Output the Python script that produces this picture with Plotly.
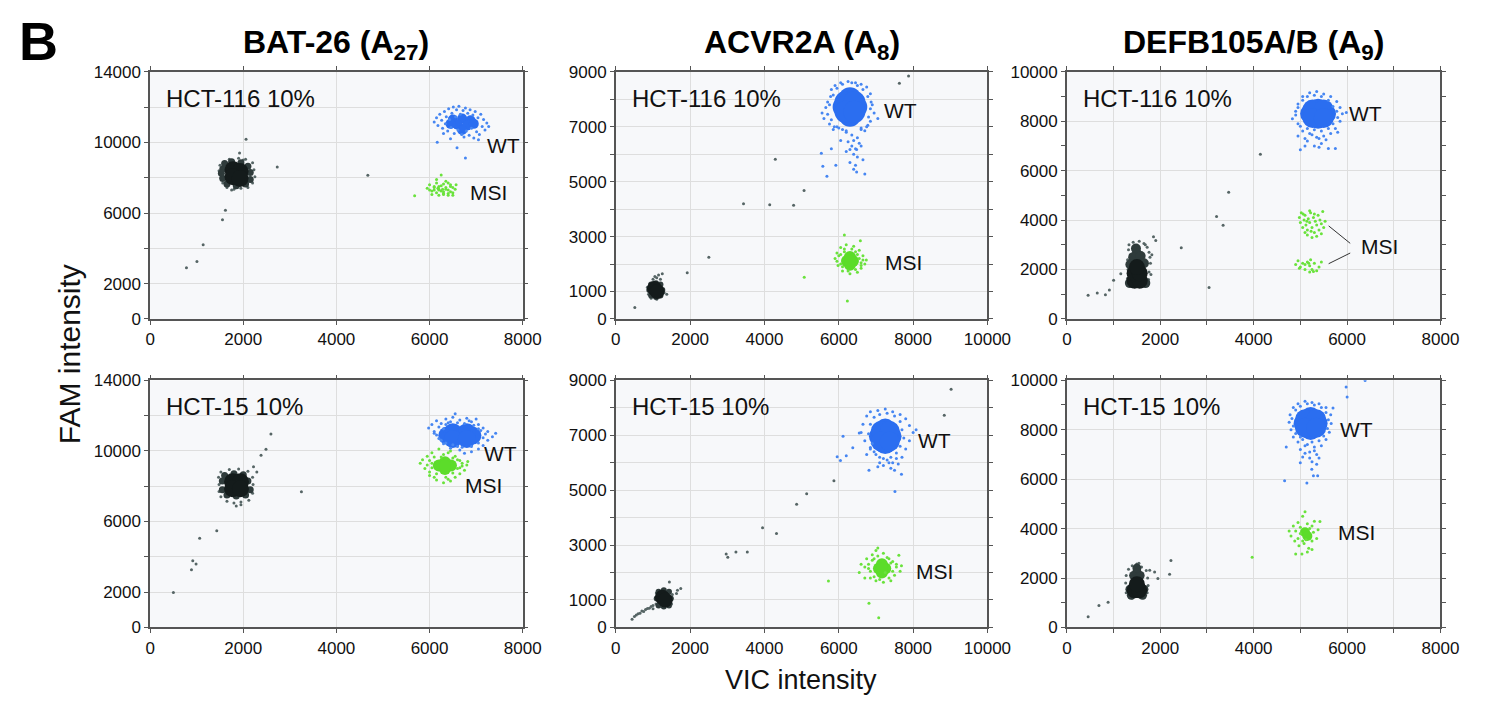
import plotly.graph_objects as go
from plotly.subplots import make_subplots

# ---------------- DATA (VIC = x, FAM = y) ----------------
TITLES = ["BAT-26 (A<sub>27</sub>)", "ACVR2A (A<sub>8</sub>)", "DEFB105A/B (A<sub>9</sub>)"]
SAMPLES = ["HCT-116 10%", "HCT-15 10%"]

X_RANGES = [8000, 10000, 8000]
Y_RANGES = [14000, 9000, 10000]
Y_TICKS = [[0, 2000, 6000, 10000, 14000], [0, 1000, 3000, 5000, 7000, 9000], [0, 2000, 4000, 6000, 8000, 10000]]
X_TICKS = [[0, 2000, 4000, 6000, 8000], [0, 2000, 4000, 6000, 8000, 10000], [0, 2000, 4000, 6000, 8000]]

# Panel 1: BAT-26, HCT-116
P1_BLACK_CORE = [(1780, 8450), (1930, 8350), (1780, 8050), (1930, 7950)]
P1_BLACK_MID = [(1560, 8500), (1600, 8800), (1750, 8900), (1950, 8850), (2100, 8650), (2150, 8300),
                (2150, 7900), (2050, 7650), (1850, 7550), (1650, 7650), (1560, 7950), (1530, 8250)]
P1_BLACK_EDGE = [(1500, 8700), (1480, 8400), (1520, 8000), (1560, 7700), (1650, 7450), (1800, 7350),
                 (1950, 7400), (2100, 7450), (2200, 7700), (2250, 8050), (2230, 8450), (2200, 8850),
                 (2050, 9050), (1900, 9100), (1700, 9050), (1920, 9400), (2060, 10180), (2730, 8600),
                 (4675, 8140), (1617, 6155), (1554, 5623), (1139, 4208), (1005, 3253), (780, 2903),
                 (1750, 7300), (2000, 9000)]
P1_BLUE_CORE = [(6500, 11300), (6700, 11350), (6880, 11250), (6600, 11000), (6800, 10950), (6700, 10700),
                (6450, 11050), (6950, 11050)]
P1_BLUE_EDGE = [(6100, 11150), (6150, 11400), (6180, 10950), (6220, 11600), (6260, 11250), (6280, 10800),
                (6320, 11750), (6340, 11050), (6360, 11450), (6390, 10650), (6410, 11900), (6430, 11300),
                (6460, 10850), (6480, 11650), (6510, 12000), (6530, 10500), (6560, 11450), (6580, 11850),
                (6610, 10700), (6630, 12050), (6660, 11600), (6690, 10450), (6720, 11800), (6740, 10300),
                (6770, 11950), (6790, 10650), (6820, 11650), (6850, 10400), (6870, 11850), (6900, 10800),
                (6930, 11550), (6950, 10250), (6980, 11750), (7010, 10600), (7040, 11400), (7070, 10450),
                (7100, 11600), (7130, 10900), (7160, 11300), (7190, 10700), (7230, 11100), (7270, 10900),
                (6770, 9110), (6165, 10010), (6590, 9700), (6450, 10200), (7050, 10150), (6300, 10500)]
P1_GREEN = [(5950, 7400), (6000, 7600), (6050, 7250), (6100, 7500), (6150, 7700), (6200, 7350), (6250, 7550),
            (6300, 7200), (6350, 7450), (6400, 7300), (6450, 7600), (6500, 7150), (6550, 7350), (6050, 7050),
            (6100, 7300), (6150, 7150), (6200, 7000), (6250, 7250), (6300, 7050), (6350, 7350), (6400, 7100),
            (6450, 7200), (6500, 7000), (6000, 7300), (6100, 7450), (6200, 7500), (6300, 7650), (6400, 7700),
            (6500, 7450), (6150, 7900), (6250, 8150), (6350, 7800), (6450, 7500), (6200, 7300), (6300, 7100),
            (6400, 7000), (5680, 6980), (6570, 7600), (6180, 7400), (6280, 7350)]

# Panel 2: ACVR2A, HCT-116
P2_BLACK_CORE = [(1040, 1110), (1110, 1000)]
P2_BLACK_MID = [(900, 1050), (1250, 1050), (1080, 1300), (1080, 800), (950, 1250), (1200, 1250),
                (950, 850), (1200, 850)]
P2_BLACK_EDGE = [(1000, 1450), (1050, 1550), (1100, 1500), (1150, 1600), (1250, 1650), (1200, 1450),
                 (1020, 1350), (1300, 950), (1370, 900), (850, 1150), (880, 900), (1100, 720), (950, 750),
                 (511, 416), (1921, 1686), (2502, 2244), (3436, 4191), (4291, 5818), (4141, 4156),
                 (4784, 4144), (5066, 4678), (7630, 8585), (7877, 8846)]
P2_BLUE_CORE = [(6300, 8040), (6300, 7400), (6130, 7720), (6470, 7720), (6300, 7720),
                (6180, 7900), (6420, 7900), (6180, 7540), (6420, 7540)]
P2_BLUE_EDGE = [(5550, 7500), (5600, 7300), (5650, 7700), (5700, 7900), (5750, 7100), (5780, 8100),
                (5800, 8350), (5900, 8500), (6050, 8600), (6250, 8650), (6450, 8600), (6600, 8550),
                (6750, 8450), (6850, 8200), (6900, 7800), (6950, 7500), (7050, 7300), (6850, 7200),
                (6750, 7000), (6700, 6850), (6600, 6950), (5850, 6900), (5950, 7000), (6100, 6900),
                (6200, 6800), (6350, 6700), (6500, 6600), (6400, 6500), (6250, 6450), (6550, 6400),
                (6350, 6300), (6450, 6200), (6300, 6170), (6480, 6170), (6600, 6300), (6200, 6100),
                (6400, 6000), (6500, 5900), (6650, 5800), (6300, 5700), (6450, 5600), (5530, 6030),
                (5570, 5560), (5920, 5600), (5680, 5200), (6700, 5280), (6480, 5350), (6400, 5450),
                (6050, 6500), (5800, 6200), (5700, 7450), (5750, 7800), (5800, 7250), (5850, 8150),
                (5880, 7000), (5950, 8400), (6000, 6950), (6100, 8550), (6200, 6850), (6350, 8600),
                (6500, 8500), (6600, 6900), (6650, 8350), (6780, 8100), (6800, 7350), (6850, 7650),
                (6870, 7900), (6780, 7050)]
P2_GREEN_CORE = [(6220, 2113), (6380, 2113), (6300, 2260), (6300, 1970), (6300, 2113)]
P2_GREEN_EDGE = [(5900, 2200), (5950, 2400), (5980, 1950), (6050, 2600), (6100, 1750), (6200, 2700),
                 (6300, 1650), (6400, 2650), (6500, 1700), (6550, 2500), (6650, 2300), (6700, 2000),
                 (6740, 2150), (6600, 1850), (6150, 3060), (6580, 2850), (5070, 1520), (6230, 650),
                 (6000, 2300), (6600, 2050), (6450, 2450), (6150, 2450), (5950, 2100), (6050, 2350),
                 (6100, 1900), (6150, 2550), (6250, 1750), (6450, 1800), (6500, 2350), (6550, 2200),
                 (6600, 1950), (6350, 2550), (6050, 2000), (6650, 2150)]

# Panel 3: DEFB105A/B, HCT-116
P3_BLACK_CORE = [(1450, 1550), (1560, 1550), (1450, 1850), (1560, 1850), (1500, 2100)]
P3_BLACK_MID = [(1500, 2400), (1500, 2650), (1480, 2850), (1420, 2500), (1580, 2550), (1360, 2200),
                (1650, 2250), (1350, 1450), (1680, 1450)]
P3_BLACK_EDGE = [(1320, 2800), (1330, 3000), (1420, 3100), (1550, 3140), (1650, 3050), (1720, 2900),
                 (1760, 2700), (1780, 2500), (1790, 2250), (1760, 1900), (1750, 1600), (1720, 1350),
                 (1600, 1300), (1400, 1300), (1300, 1650), (1310, 2000), (1300, 2400), (1855, 3330),
                 (1904, 3176), (1155, 1830), (1001, 1569), (910, 1176), (826, 980), (651, 1046),
                 (455, 954), (2450, 2876), (3045, 1268), (3206, 4144), (3346, 3791), (3465, 5124),
                 (4144, 6667), (1800, 1800), (1820, 2600), (1680, 3000)]
P3_BLUE_CORE = [(5210, 8300), (5550, 8300), (5380, 8500), (5380, 8100), (5380, 8300),
                (5260, 8470), (5500, 8470), (5260, 8130), (5500, 8130)]
P3_BLUE_EDGE = [(4830, 8100), (4900, 8400), (4950, 8700), (4950, 7900), (5050, 9000), (5200, 9150),
                (5350, 9200), (5500, 9100), (5650, 9000), (5780, 8800), (5850, 8550), (5900, 8300),
                (5985, 8350), (5850, 8000), (5750, 7700), (5650, 7500), (5500, 7400), (5350, 7350),
                (5200, 7500), (5050, 7600), (4950, 7400), (5150, 7200), (5300, 7000), (5450, 7100),
                (5550, 7250), (5750, 6900), (5600, 6900), (5000, 6850), (5100, 7000), (5400, 6950),
                (5800, 7550), (4900, 8250), (4950, 8550), (5000, 7800), (5050, 8850), (5150, 9000),
                (5300, 9050), (5450, 9000), (5600, 8850), (5700, 8600), (5780, 8400), (5800, 8150),
                (5700, 7900), (5600, 7700), (5450, 7600), (5300, 7650), (5150, 7700), (5250, 7450),
                (5400, 7300), (5100, 7300)]
P3_GREEN = [(4980, 4100), (5000, 3900), (5020, 4300), (5050, 3700), (5080, 4000), (5100, 4200), (5120, 3800),
            (5150, 3600), (5170, 4050), (5200, 3900), (5220, 4300), (5250, 3700), (5280, 4100), (5300, 3500),
            (5320, 3950), (5350, 3800), (5380, 4200), (5400, 3600), (5420, 4000), (5450, 3850), (5480, 4350),
            (5500, 3700), (5530, 3950), (5150, 3400), (5250, 3300), (5350, 3350), (5200, 4380), (5100, 3500),
            (5450, 3450), (5300, 4250), (5060, 4250), (5230, 3550), (5140, 3950),
            (4900, 2200), (4950, 2350), (5000, 2100), (5050, 2250), (5100, 2000), (5150, 2300), (5200, 2150),
            (5220, 2400), (5250, 2000), (5300, 2250), (5350, 1950), (5400, 2100), (5450, 2300), (5100, 2200),
            (5200, 1900), (5280, 1920), (5180, 2250), (4980, 2050)]

# Panel 4: BAT-26, HCT-15
P4_BLACK_CORE = [(1770, 8250), (1940, 8250), (1770, 7850), (1940, 7850)]
P4_BLACK_MID = [(1550, 8300), (1600, 8600), (1800, 8700), (2000, 8650), (2100, 8300), (2150, 7800),
                (2050, 7500), (1850, 7450), (1650, 7500), (1550, 7800)]
P4_BLACK_EDGE = [(1480, 8100), (1470, 8500), (1520, 8800), (1700, 8950), (1900, 8980), (2100, 8850),
                 (2200, 8500), (2210, 8100), (2200, 7600), (2120, 7200), (1950, 7100), (1800, 7050),
                 (1650, 7150), (1520, 7400), (1480, 7700), (1850, 6880), (1950, 6950), (2594, 10957),
                 (2488, 10090), (2382, 9758), (2291, 8799), (3249, 7692), (1431, 5478), (1064, 5054),
                 (916, 3781), (987, 3597), (888, 3265), (500, 1974), (2220, 9100)]
P4_BLUE_CORE = [(6380, 10870), (6650, 10870), (6920, 10870), (6500, 11060), (6800, 11060),
                (6500, 10680), (6800, 10680)]
P4_BLUE_EDGE = [(5980, 11300), (6050, 11500), (6100, 11100), (6150, 11700), (6250, 11550), (6350, 11800),
                (6500, 11900), (6550, 12100), (6650, 11750), (6800, 11850), (6900, 11650), (7050, 11500),
                (7150, 11300), (7250, 11100), (7350, 10800), (7420, 11000), (7250, 10600), (7150, 10300),
                (7050, 10100), (6900, 9950), (6750, 9870), (6650, 10050), (6450, 10150), (6300, 10400),
                (6200, 10700), (6150, 10900), (7000, 11800), (6400, 11600), (6100, 11000), (6200, 11350),
                (6250, 10600), (6350, 11500), (6450, 11650), (6600, 11600), (6750, 11550), (6950, 11450),
                (7100, 11150), (7150, 10750), (7050, 10450), (6900, 10250), (6700, 10200), (6500, 10350),
                (6350, 10450), (7200, 10950), (6300, 11250), (7050, 11250), (6600, 10250), (6850, 11700)]
P4_GREEN_CORE = [(6200, 9170), (6460, 9170), (6330, 9350), (6330, 8980), (6330, 9170)]
P4_GREEN_EDGE = [(5800, 9300), (5850, 9500), (5900, 9000), (5950, 9700), (6000, 8800), (6050, 9900),
                 (6100, 8500), (6200, 10100), (6250, 9650), (6400, 9900), (6450, 10000), (6550, 9700),
                 (6600, 9500), (6700, 9300), (6800, 9200), (6750, 8900), (6650, 8700), (6550, 8500),
                 (6450, 8300), (6300, 8200), (6150, 8350), (6000, 8600), (6820, 9400), (6050, 9300),
                 (6600, 9000), (5950, 9200), (6000, 9450), (6100, 9650), (6150, 8700), (6300, 9800),
                 (6500, 9600), (6650, 9450), (6650, 9050), (6500, 8750), (6350, 8500), (6050, 9050),
                 (6700, 9150), (6400, 8400)]

# Panel 5: ACVR2A, HCT-15
P5_BLACK_CORE = [(1250, 1100), (1330, 1000)]
P5_BLACK_MID = [(1100, 1050), (1480, 1050), (1290, 1350), (1290, 760), (1150, 1300), (1430, 1300),
                (1150, 800), (1430, 800)]
P5_BLACK_EDGE = [(1090, 1250), (1520, 1200), (1500, 850), (1080, 850), (1441, 1651), (1659, 1357),
                 (1747, 1416), (1633, 1239), (1000, 800), (900, 700), (800, 650), (700, 600), (600, 500),
                 (500, 400), (437, 300), (650, 520), (750, 580), (550, 450), (850, 690), (950, 760),
                 (1000, 680), (2969, 2678), (3013, 2560), (3231, 2748), (3537, 2748), (3948, 3633),
                 (4323, 3421), (4865, 4482), (5135, 4872), (5869, 5343), (8838, 7726), (9022, 8670)]
P5_BLUE_CORE = [(7080, 6960), (7420, 6960), (7250, 7245), (7250, 6675), (7250, 6960),
                (7130, 7150), (7370, 7150), (7130, 6770), (7370, 6770)]
P5_BLUE_EDGE = [(6600, 7100), (6650, 7400), (6700, 6800), (6750, 7700), (6850, 7850), (7050, 7900),
                (7250, 7950), (7450, 7850), (7650, 7750), (7800, 7600), (7900, 7350), (8000, 7100),
                (8080, 7200), (7900, 6800), (7800, 6500), (7700, 6200), (7600, 5950), (7450, 6000),
                (7300, 6100), (7100, 6200), (6950, 6400), (6850, 6550), (7200, 5900), (7400, 5800),
                (7500, 5720), (6114, 6960), (5956, 6216), (6044, 6075), (6201, 6252), (6376, 6547),
                (6550, 7077), (6812, 5721), (7511, 4954), (7686, 5579), (7050, 5850), (6800, 7050),
                (6850, 7400), (6900, 6700), (6950, 7650), (7100, 7750), (7300, 7800), (7500, 7700),
                (7650, 7500), (7700, 7200), (7750, 6900), (7650, 6600), (7550, 6350), (7400, 6200),
                (7200, 6150), (7000, 6300), (6850, 6500), (7100, 6000), (7350, 6000), (7550, 6150),
                (6750, 6300)]
P5_GREEN_CORE = [(7080, 2150), (7250, 2150), (7160, 2300), (7160, 2000), (7160, 2150)]
P5_GREEN_EDGE = [(6550, 2000), (6600, 2300), (6700, 1800), (6750, 2500), (6800, 2150), (6900, 2650),
                 (7000, 2800), (7050, 2890), (7200, 2700), (7350, 2500), (7450, 2400), (7550, 2200),
                 (7650, 2050), (7686, 2250), (7500, 1900), (7400, 1700), (7200, 1650), (7000, 1700),
                 (6850, 1800), (7616, 2630), (5721, 1687), (6812, 885), (7074, 354), (7250, 2000),
                 (6950, 2500), (6800, 2300), (6850, 2050), (6900, 2450), (6950, 1850), (7050, 2600),
                 (7300, 2550), (7400, 2350), (7450, 2050), (7350, 1800), (7100, 1750), (6700, 2200),
                 (7550, 2300)]

# Panel 6: DEFB105A/B, HCT-15
P6_BLACK_CORE = [(1450, 1500), (1550, 1500), (1500, 1750)]
P6_BLACK_MID = [(1500, 2000), (1500, 2250), (1430, 2100), (1570, 2100), (1350, 1550), (1650, 1550),
                (1380, 1300), (1620, 1300), (1500, 2400)]
P6_BLACK_EDGE = [(1260, 1800), (1270, 2100), (1320, 2350), (1400, 2500), (1500, 2570), (1600, 2450),
                 (1700, 2300), (1730, 2000), (1740, 1700), (1720, 1400), (1650, 1200), (1400, 1190),
                 (1270, 1400), (1774, 2309), (1879, 2243), (1949, 1979), (2229, 2704), (1543, 2599),
                 (883, 1016), (687, 884), (456, 435), (2200, 2150)]
P6_BLUE_CORE = [(5070, 8250), (5370, 8250), (5220, 8510), (5220, 7990), (5220, 8250),
                (5100, 8420), (5340, 8420), (5100, 8080), (5340, 8080)]
P6_BLUE_EDGE = [(4760, 8300), (4780, 8600), (4800, 8000), (4850, 8900), (4950, 9050), (5100, 9150),
                (5250, 9100), (5400, 9050), (5550, 8900), (5650, 8600), (5660, 8250), (5620, 7900),
                (5550, 7600), (5450, 7350), (5300, 7300), (5100, 7350), (4950, 7500), (4850, 7700),
                (5000, 7200), (5200, 7100), (5350, 7000), (5050, 6900), (5250, 6700), (5400, 6850),
                (4698, 7296), (4999, 6662), (5245, 6398), (5280, 6135), (5371, 6135), (5140, 5844),
                (4663, 5937), (5981, 9723), (6002, 9327), (6387, 9987), (5700, 8879), (4820, 8450),
                (4850, 8150), (4900, 7850), (4900, 8800), (5000, 8950), (5150, 9050), (5300, 9000),
                (5450, 8900), (5550, 8700), (5600, 8400), (5580, 8050), (5500, 7750), (5400, 7550),
                (5250, 7500), (5050, 7600), (5150, 7400), (5300, 7150), (5100, 7050), (5200, 6850),
                (5350, 6600), (5000, 7700)]
P6_GREEN_CORE = [(5100, 3850), (5150, 3700)]
P6_GREEN_EDGE = [(4760, 3900), (4800, 3700), (4850, 4100), (4880, 3500), (4900, 3900), (4950, 4250),
                 (4970, 3300), (5000, 4050), (5050, 4500), (5080, 3400), (5100, 4683), (5150, 4200),
                 (5180, 3200), (5200, 4000), (5250, 3500), (5280, 3850), (5300, 4300), (5350, 3600),
                 (5380, 3950), (5420, 4288), (5250, 3150), (5034, 2968), (3968, 2836), (4950, 3600),
                 (5120, 3550), (4900, 2970), (5150, 3050), (5000, 3800), (5250, 4100), (5050, 3500)]

# Cluster label positions (data units) per panel: (WT x, WT y, MSI x, MSI y)
LABELS = {
    (1, 1): (7580, 9840, 7260, 7140),
    (1, 2): (7650, 7590, 7730, 2070),
    (1, 3): (6400, 8310, 6700, 2940),
    (2, 1): (7520, 9880, 7160, 8050),
    (2, 2): (8575, 6800, 8575, 2020),
    (2, 3): (6210, 8020, 6210, 3830),
}
# MSI leader lines in panel 3 (data units): (x0, y0, x1, y1)
P3_LEADERS = [(5606, 3765, 6068, 3059), (5606, 2235, 6068, 2667)]

# ---------------- STYLE ----------------
BLACK_CORE, BLACK_MID, BLACK_EDGE = "#141b1b", "#2f3b3b", "#566565"
BLUE_CORE, BLUE_EDGE = "#2b6ef0", "#4686f2"
GREEN_CORE, GREEN_EDGE = "#5cdc2a", "#6ae23c"
FONT = "Liberation Sans, Arial, Helvetica, sans-serif"

fig = make_subplots(rows=2, cols=3)

X_DOM = [(148 / 1486, 528 / 1486), (623 / 1486, 1002 / 1486), (1083 / 1486, 1464 / 1486)]
Y_DOM = [(1 - 318.5 / 708, 1 - 64.5 / 708), (1 - 635.5 / 708, 1 - 381.5 / 708)]

PANELS = {
    (1, 1): [(P1_BLACK_EDGE, BLACK_EDGE, 3), (P1_BLACK_MID, BLACK_MID, 7), (P1_BLACK_CORE, BLACK_CORE, 17),
             (P1_BLUE_CORE, BLUE_CORE, 10), (P1_BLUE_EDGE, BLUE_EDGE, 3), (P1_GREEN, GREEN_EDGE, 3)],
    (1, 2): [(P2_BLACK_EDGE, BLACK_EDGE, 3), (P2_BLACK_MID, BLACK_MID, 6), (P2_BLACK_CORE, BLACK_CORE, 15),
             (P2_BLUE_CORE, BLUE_CORE, 22), (P2_BLUE_EDGE, BLUE_EDGE, 3),
             (P2_GREEN_CORE, GREEN_CORE, 12), (P2_GREEN_EDGE, GREEN_EDGE, 3)],
    (1, 3): [(P3_BLACK_EDGE, BLACK_EDGE, 3), (P3_BLACK_MID, BLACK_MID, 10), (P3_BLACK_CORE, BLACK_CORE, 16),
             (P3_BLUE_CORE, BLUE_CORE, 20), (P3_BLUE_EDGE, BLUE_EDGE, 3), (P3_GREEN, GREEN_EDGE, 3)],
    (2, 1): [(P4_BLACK_EDGE, BLACK_EDGE, 3), (P4_BLACK_MID, BLACK_MID, 7), (P4_BLACK_CORE, BLACK_CORE, 17),
             (P4_BLUE_CORE, BLUE_CORE, 18), (P4_BLUE_EDGE, BLUE_EDGE, 3),
             (P4_GREEN_CORE, GREEN_CORE, 12), (P4_GREEN_EDGE, GREEN_EDGE, 3)],
    (2, 2): [(P5_BLACK_EDGE, BLACK_EDGE, 3), (P5_BLACK_MID, BLACK_MID, 6), (P5_BLACK_CORE, BLACK_CORE, 15),
             (P5_BLUE_CORE, BLUE_CORE, 20), (P5_BLUE_EDGE, BLUE_EDGE, 3),
             (P5_GREEN_CORE, GREEN_CORE, 12), (P5_GREEN_EDGE, GREEN_EDGE, 3)],
    (2, 3): [(P6_BLACK_EDGE, BLACK_EDGE, 3), (P6_BLACK_MID, BLACK_MID, 9), (P6_BLACK_CORE, BLACK_CORE, 16),
             (P6_BLUE_CORE, BLUE_CORE, 20), (P6_BLUE_EDGE, BLUE_EDGE, 3),
             (P6_GREEN_CORE, GREEN_CORE, 10), (P6_GREEN_EDGE, GREEN_EDGE, 3)],
}

for (r, c), layers in PANELS.items():
    for pts, color, size in layers:
        fig.add_trace(go.Scatter(
            x=[p[0] for p in pts], y=[p[1] for p in pts], mode="markers",
            marker=dict(color=color, size=size, symbol="circle", line=dict(width=0)),
            showlegend=False, hoverinfo="skip"), row=r, col=c)

annotations = []
for r in (1, 2):
    for c in (1, 2, 3):
        idx = (r - 1) * 3 + c
        xa = "xaxis" if idx == 1 else f"xaxis{idx}"
        ya = "yaxis" if idx == 1 else f"yaxis{idx}"
        xref = "x" if idx == 1 else f"x{idx}"
        yref = "y" if idx == 1 else f"y{idx}"
        ci = c - 1
        x_minor = 1000 if ci == 2 else 2000
        y_minor = {0: 2000, 1: 1000, 2: 1000}[ci]
        fig.layout[xa].update(
            domain=X_DOM[ci], range=[0, X_RANGES[ci]],
            tickvals=X_TICKS[ci], ticktext=[str(v) for v in X_TICKS[ci]],
            showgrid=True, gridcolor="#dedede", gridwidth=1, zeroline=False,
            showline=True, linecolor="#555555", linewidth=1.5, mirror="allticks",
            ticks="outside", ticklen=4, tickcolor="#555555",
            tickfont=dict(family=FONT, size=17, color="#111111"),
            minor=dict(dtick=x_minor, tick0=0, showgrid=True, gridcolor="#dedede",
                       ticks="outside", ticklen=4, tickcolor="#555555"))
        fig.layout[ya].update(
            domain=Y_DOM[r - 1], range=[0, Y_RANGES[ci]],
            tickvals=Y_TICKS[ci], ticktext=[str(v) for v in Y_TICKS[ci]],
            showgrid=True, gridcolor="#dedede", gridwidth=1, zeroline=False,
            showline=True, linecolor="#555555", linewidth=1.5, mirror="allticks",
            ticks="outside", ticklen=4, tickcolor="#555555",
            tickfont=dict(family=FONT, size=17, color="#111111"),
            minor=dict(dtick=y_minor, tick0=0, showgrid=(ci != 2), gridcolor="#dedede",
                       ticks="outside", ticklen=4, tickcolor="#555555"))
        annotations.append(dict(text=SAMPLES[r - 1], xref=f"{xref} domain", yref=f"{yref} domain",
                                x=0.038, y=0.892, xanchor="left", yanchor="middle", showarrow=False,
                                font=dict(family=FONT, size=24, color="#111111")))
        wx, wy, mx, my = LABELS[(r, c)]
        annotations.append(dict(text="WT", xref=xref, yref=yref, x=wx, y=wy, showarrow=False,
                                xanchor="center", yanchor="middle",
                                font=dict(family=FONT, size=21, color="#111111")))
        annotations.append(dict(text="MSI", xref=xref, yref=yref, x=mx, y=my, showarrow=False,
                                xanchor="center", yanchor="middle",
                                font=dict(family=FONT, size=21, color="#111111")))

shapes = []
for x0, y0, x1, y1 in P3_LEADERS:
    shapes.append(dict(type="line", xref="x3", yref="y3", x0=x0, y0=y0, x1=x1, y1=y1,
                       line=dict(color="#333333", width=1)))

TITLE_X = [(a + b) / 2 for a, b in X_DOM]
for t, tx in zip(TITLES, TITLE_X):
    annotations.append(dict(text=f"<b>{t}</b>", xref="paper", yref="paper", x=tx, y=1 - 36 / 708,
                            xanchor="center", yanchor="middle", showarrow=False,
                            font=dict(family=FONT, size=32, color="#000000")))
annotations.append(dict(text="<b>B</b>", xref="paper", yref="paper", x=12 / 1486, y=1 - 33 / 708,
                        xanchor="left", yanchor="middle", showarrow=False,
                        font=dict(family=FONT, size=54, color="#000000")))
annotations.append(dict(text="FAM intensity", xref="paper", yref="paper", x=66 / 1486, y=1 - 355 / 708,
                        xanchor="center", yanchor="middle", showarrow=False, textangle=-90,
                        font=dict(family=FONT, size=30, color="#111111")))
annotations.append(dict(text="VIC intensity", xref="paper", yref="paper", x=812 / 1486, y=1 - 690 / 708,
                        xanchor="center", yanchor="middle", showarrow=False,
                        font=dict(family=FONT, size=27, color="#111111")))

fig.update_layout(
    autosize=True, margin=dict(l=0, r=0, t=0, b=0),
    paper_bgcolor="#ffffff", plot_bgcolor="#f7f8fa",
    annotations=annotations, shapes=shapes, showlegend=False,
)

POST = (
    "document.documentElement.style.margin='0';document.documentElement.style.padding='0';"
    "document.documentElement.style.overflow='hidden';"
    "document.body.style.margin='0';document.body.style.padding='0';document.body.style.overflow='hidden';"
    "var gd=document.getElementById('{plot_id}');"
    "gd.style.position='fixed';gd.style.left='0';gd.style.top='0';"
    "gd.style.width=window.innerWidth+'px';gd.style.height=window.innerHeight+'px';"
    "Plotly.Plots.resize(gd);"
)
fig.write_html("out.html", config={"displayModeBar": False, "responsive": True},
               default_width="100vw", default_height="100vh", post_script=POST)
